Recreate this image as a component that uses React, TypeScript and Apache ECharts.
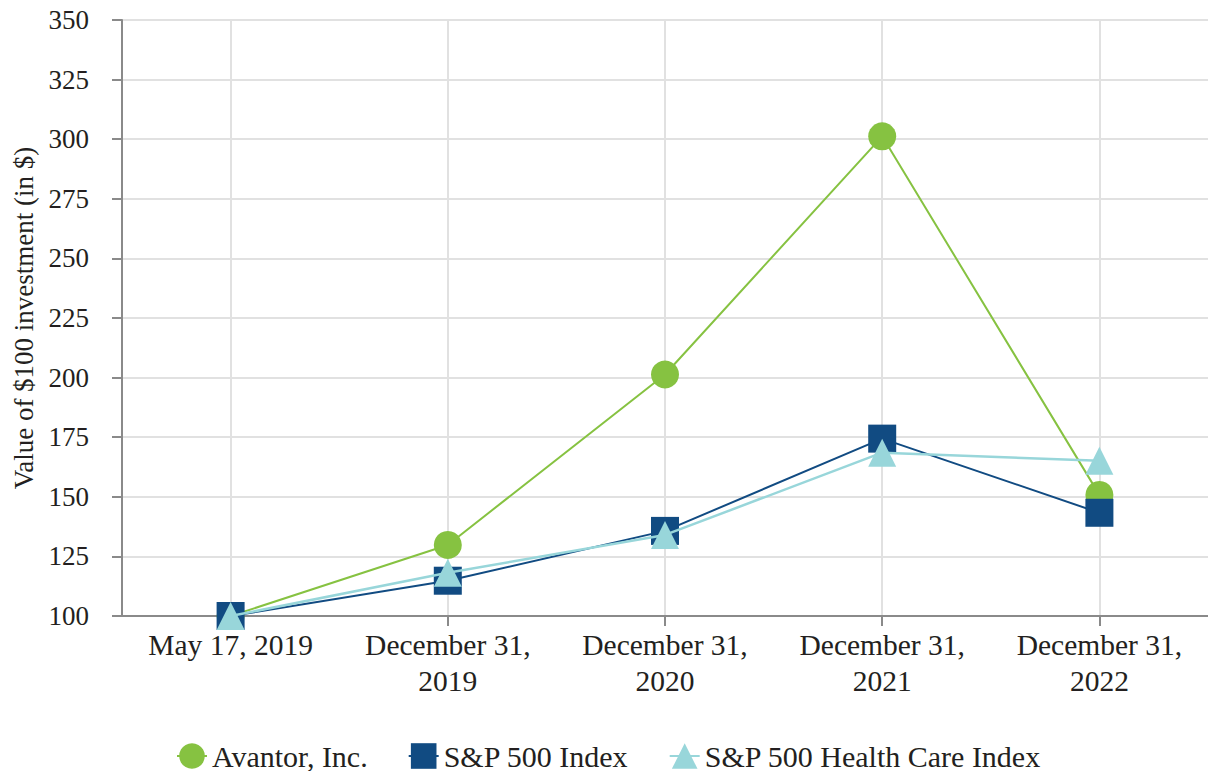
import React, { useEffect, useRef } from "react";
import * as echarts from "echarts";

const categories = [
  "May 17, 2019",
  "December 31,\n2019",
  "December 31,\n2020",
  "December 31,\n2021",
  "December 31,\n2022",
];
const avantor = [100, 129.8, 201.3, 301.2, 150.8];
const sp500 = [100, 114.8, 135.7, 174.4, 143.3];
const spHealth = [100, 118.1, 134, 168.5, 165.1];
const yTicks = { min: 100, max: 350, interval: 25 };

const FONT = "'Liberation Serif', 'Times New Roman', serif";

export default function App() {
  const ref = useRef<HTMLDivElement>(null);
  useEffect(() => {
    if (!ref.current) return;
    const chart = echarts.init(ref.current, null, { renderer: "svg" });
    chart.setOption({
      animation: false,
      textStyle: { fontFamily: FONT, color: "#231f20" },
      grid: { left: 122, right: 0, top: 20, bottom: 155, containLabel: false, outerBoundsMode: "none" },
      legend: {
        left: 176,
        top: 741,
        padding: 0,
        itemWidth: 30,
        itemHeight: 32,
        itemGap: 40,
        itemTextGap: 8,
        textStyle: { fontFamily: FONT, fontSize: 30, color: "#231f20" },
        data: ["Avantor, Inc.", "S&P 500 Index", "S&P 500 Health Care Index"],
      },
      xAxis: {
        type: "category",
        data: categories,
        boundaryGap: true,
        axisLine: { lineStyle: { color: "#8a8a8a", width: 2 } },
        axisTick: { show: true, alignWithLabel: true, length: 10, lineStyle: { color: "#8a8a8a", width: 2 } },
        axisLabel: {
          fontFamily: FONT,
          fontSize: 29.5,
          color: "#231f20",
          margin: 11,
          lineHeight: 36,
          interval: 0,
        },
        splitLine: { show: true, alignWithLabel: true, lineStyle: { color: "#e1e1e1", width: 2 } },
      },
      yAxis: {
        type: "value",
        min: yTicks.min,
        max: yTicks.max,
        interval: yTicks.interval,
        name: "Value of $100 investment (in $)",
        nameLocation: "middle",
        nameGap: 85,
        nameTextStyle: { fontFamily: FONT, fontSize: 27, color: "#231f20" },
        axisLine: { show: true, lineStyle: { color: "#8a8a8a", width: 2 } },
        axisTick: { show: true, length: 10, lineStyle: { color: "#8a8a8a", width: 2 } },
        axisLabel: { fontFamily: FONT, fontSize: 27, color: "#231f20", margin: 33 },
        splitLine: { show: true, lineStyle: { color: "#e1e1e1", width: 2 } },
      },
      series: [
        {
          name: "Avantor, Inc.",
          type: "line",
          data: avantor,
          symbol: "circle",
          symbolSize: 28,
          color: "#86c241",
          lineStyle: { width: 2, color: "#86c241" },
          itemStyle: { color: "#86c241" },
          z: 2,
        },
        {
          name: "S&P 500 Index",
          type: "line",
          data: sp500,
          symbol: "rect",
          symbolSize: 28,
          color: "#114b82",
          lineStyle: { width: 2, color: "#114b82" },
          itemStyle: { color: "#114b82" },
          z: 3,
        },
        {
          name: "S&P 500 Health Care Index",
          type: "line",
          data: spHealth,
          symbol: "triangle",
          symbolSize: 28,
          color: "#98d6da",
          lineStyle: { width: 2.5, color: "#98d6da" },
          itemStyle: { color: "#98d6da" },
          z: 4,
        },
      ],
    });
    return () => chart.dispose();
  }, []);
  return (
    <div
      ref={ref}
      style={{ position: "fixed", left: 0, top: 0, width: 1208, height: 771, background: "#fff" }}
    />
  );
}
